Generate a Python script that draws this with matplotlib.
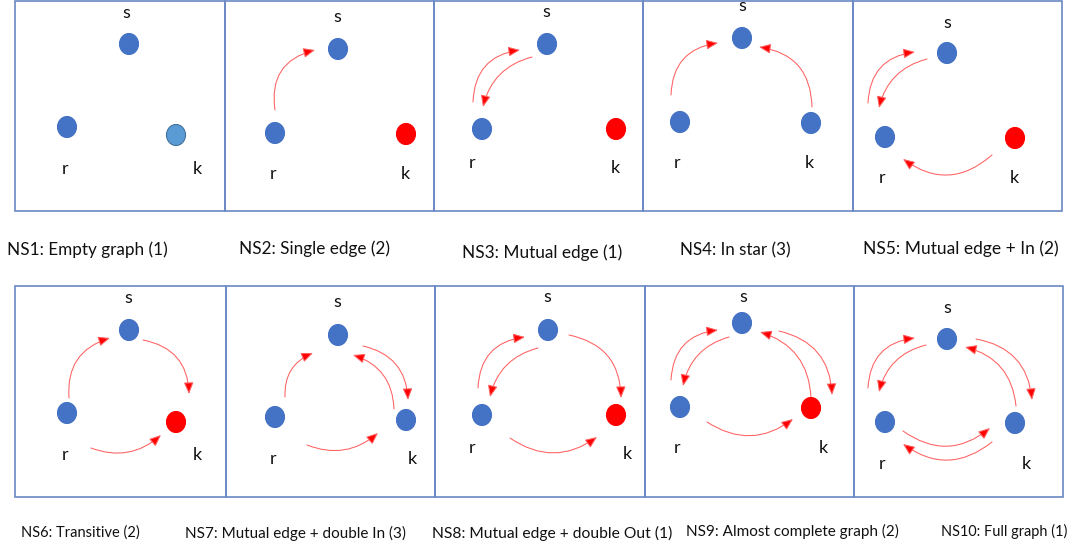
import matplotlib
matplotlib.use('Agg')
import matplotlib.pyplot as plt
from matplotlib.patches import Ellipse, FancyArrowPatch, Rectangle, ArrowStyle

W, H = 1073, 548
plt.rcParams['font.family'] = ['Lato', 'DejaVu Sans']

# ---------------- data ----------------
captions = ["NS1: Empty graph (1)", "NS2: Single edge (2)", "NS3: Mutual edge (1)",
            "NS4: In star (3)", "NS5: Mutual edge + In (2)",
            "NS6: Transitive (2)", "NS7: Mutual edge + double In (3)",
            "NS8: Mutual edge + double Out (1)", "NS9: Almost complete graph (2)",
            "NS10: Full graph (1)"]
caption_x0 = [7, 239, 462, 680, 863, 21, 185, 432, 686, 941]
caption_x1 = [167, 389, 622, 790, 1057, 140, 405, 672, 898, 1067]
caption_y = [250, 249, 253, 250, 249, 533, 533, 533, 531, 531]

panel_left = [15, 225, 434, 643, 853, 15, 226, 435, 645, 854]
panel_right = [225, 434, 643, 853, 1062, 226, 435, 645, 854, 1063]
panel_top = [1, 1, 1, 1, 1, 286, 286, 286, 286, 286]
panel_bottom = [211, 211, 211, 211, 211, 497, 497, 497, 497, 497]

node_names = ["s", "r", "k"]
s_xy = [(129, 44), (338, 49), (547, 44), (742, 38), (947, 53),
        (129, 330), (338, 335), (548, 330), (742, 323), (947, 339)]
r_xy = [(67, 127), (275, 133), (482, 129), (680, 122), (885, 137),
        (67, 413), (275, 417), (482, 415), (680, 407), (885, 422)]
k_xy = [(176, 135), (406, 134), (616, 129), (811, 123), (1015, 138),
        (176, 422), (406, 420), (616, 415), (811, 408), (1015, 423)]
k_kind = ["light", "red", "red", "blue", "red", "red", "blue", "red", "red", "blue"]

s_lab = [(126, 13), (337, 17), (546, 12), (742, 6), (947, 23),
         (128, 298), (337, 302), (547, 297), (743, 297), (947, 308)]
r_lab = [(65, 169), (273, 174), (472, 163), (677, 163), (882, 178),
         (65, 455), (273, 459), (472, 448), (677, 448), (882, 464)]
k_lab = [(197, 169), (405, 174), (615, 168), (809, 163), (1014, 178),
         (197, 455), (412, 459), (627, 454), (823, 448), (1026, 464)]

# edges: panel index, start point, end point, curvature magnitude
edge_panel = [1, 2, 2, 3, 3, 4, 4, 4,
              5, 5, 5, 6, 6, 6, 6, 7, 7, 7, 7,
              8, 8, 8, 8, 8, 9, 9, 9, 9, 9, 9]
edge_start = [(275, 110), (473, 102), (532, 57), (671, 95), (812, 107),
              (868, 103), (927, 59), (992, 155),
              (69, 398), (143, 340), (91, 448),
              (285, 397), (394, 409), (363, 346), (307, 445),
              (478, 388), (538, 348), (569, 335), (510, 438),
              (671, 380), (729, 337), (811, 398), (779, 331), (707, 422),
              (868, 388), (926, 345), (1016, 406), (976, 339), (903, 431), (992, 442)]
edge_end = [(315, 50), (520, 50), (483, 107), (718, 43), (759, 47),
            (915, 52), (879, 108), (903, 159),
            (110, 338), (189, 394), (161, 435),
            (313, 353), (353, 355), (408, 400), (378, 433),
            (525, 337), (490, 397), (621, 398), (597, 437),
            (718, 330), (683, 386), (760, 332), (832, 395), (793, 419),
            (915, 338), (879, 392), (965, 347), (1032, 400), (990, 428), (903, 444)]
edge_bend = [0.45, 0.42, 0.3, 0.42, 0.42,
             0.42, 0.3, 0.4,
             0.4, 0.4, 0.3,
             0.35, 0.35, 0.38, 0.3,
             0.42, 0.3, 0.4, 0.35,
             0.42, 0.3, 0.35, 0.38, 0.35,
             0.42, 0.3, 0.35, 0.38, 0.38, 0.38]

# ---------------- drawing ----------------
fig = plt.figure(figsize=(W / 100, H / 100), dpi=100)
ax = fig.add_axes([0, 0, 1, 1])
ax.set_xlim(0, W)
ax.set_ylim(H, 0)
ax.axis('off')

frame_col = '#6a88c4'
for l, r, t, b in zip(panel_left, panel_right, panel_top, panel_bottom):
    ax.add_patch(Rectangle((l, t), r - l, b - t, fill=False, edgecolor=frame_col, lw=1.2))

node_w, node_h = 19, 21
blue = '#4472C4'
fill_of = {"blue": (blue, blue), "red": ('#FF0000', '#FF0000'), "light": ('#5B9BD5', '#41719C')}
for i in range(10):
    for xy, kind in ((s_xy[i], "blue"), (r_xy[i], "blue"), (k_xy[i], k_kind[i])):
        fc, ec = fill_of[kind]
        ax.add_patch(Ellipse(xy, node_w, node_h, facecolor=fc, edgecolor=ec, lw=0.8, zorder=3))
    for name, pos in zip(node_names, (s_lab[i], r_lab[i], k_lab[i])):
        ax.text(pos[0], pos[1], name, fontsize=13, ha='center', va='center', color='#111111')

style = ArrowStyle('-|>', head_length=1.0, head_width=0.42)
for p, a, b, f in zip(edge_panel, edge_start, edge_end, edge_bend):
    cx = (s_xy[p][0] + r_xy[p][0] + k_xy[p][0]) / 3
    cy = (s_xy[p][1] + r_xy[p][1] + k_xy[p][1]) / 3
    mx, my = (a[0] + b[0]) / 2, (a[1] + b[1]) / 2
    dx, dy = b[0] - a[0], b[1] - a[1]
    # control point (image coords) for rad=+f is M + f*(-dy, dx)
    d_plus = (mx - f * dy - cx) ** 2 + (my + f * dx - cy) ** 2
    d_minus = (mx + f * dy - cx) ** 2 + (my - f * dx - cy) ** 2
    rad = f if d_plus > d_minus else -f
    ax.add_patch(FancyArrowPatch(a, b, connectionstyle=f"arc3,rad={rad}",
                                 arrowstyle=style, mutation_scale=7,
                                 edgecolor='#ff6060', facecolor='#ff0000',
                                 lw=0.75, shrinkA=0, shrinkB=0, zorder=2))

fig.canvas.draw()
renderer = fig.canvas.get_renderer()
for txt, x0, x1, y in zip(captions, caption_x0, caption_x1, caption_y):
    t = ax.text(x0, y, txt, fontsize=10, ha='left', va='center', color='#111111')
    w = t.get_window_extent(renderer).width
    t.set_fontsize(10 * (x1 - x0) / w)

fig.savefig('out.png', dpi=100)
